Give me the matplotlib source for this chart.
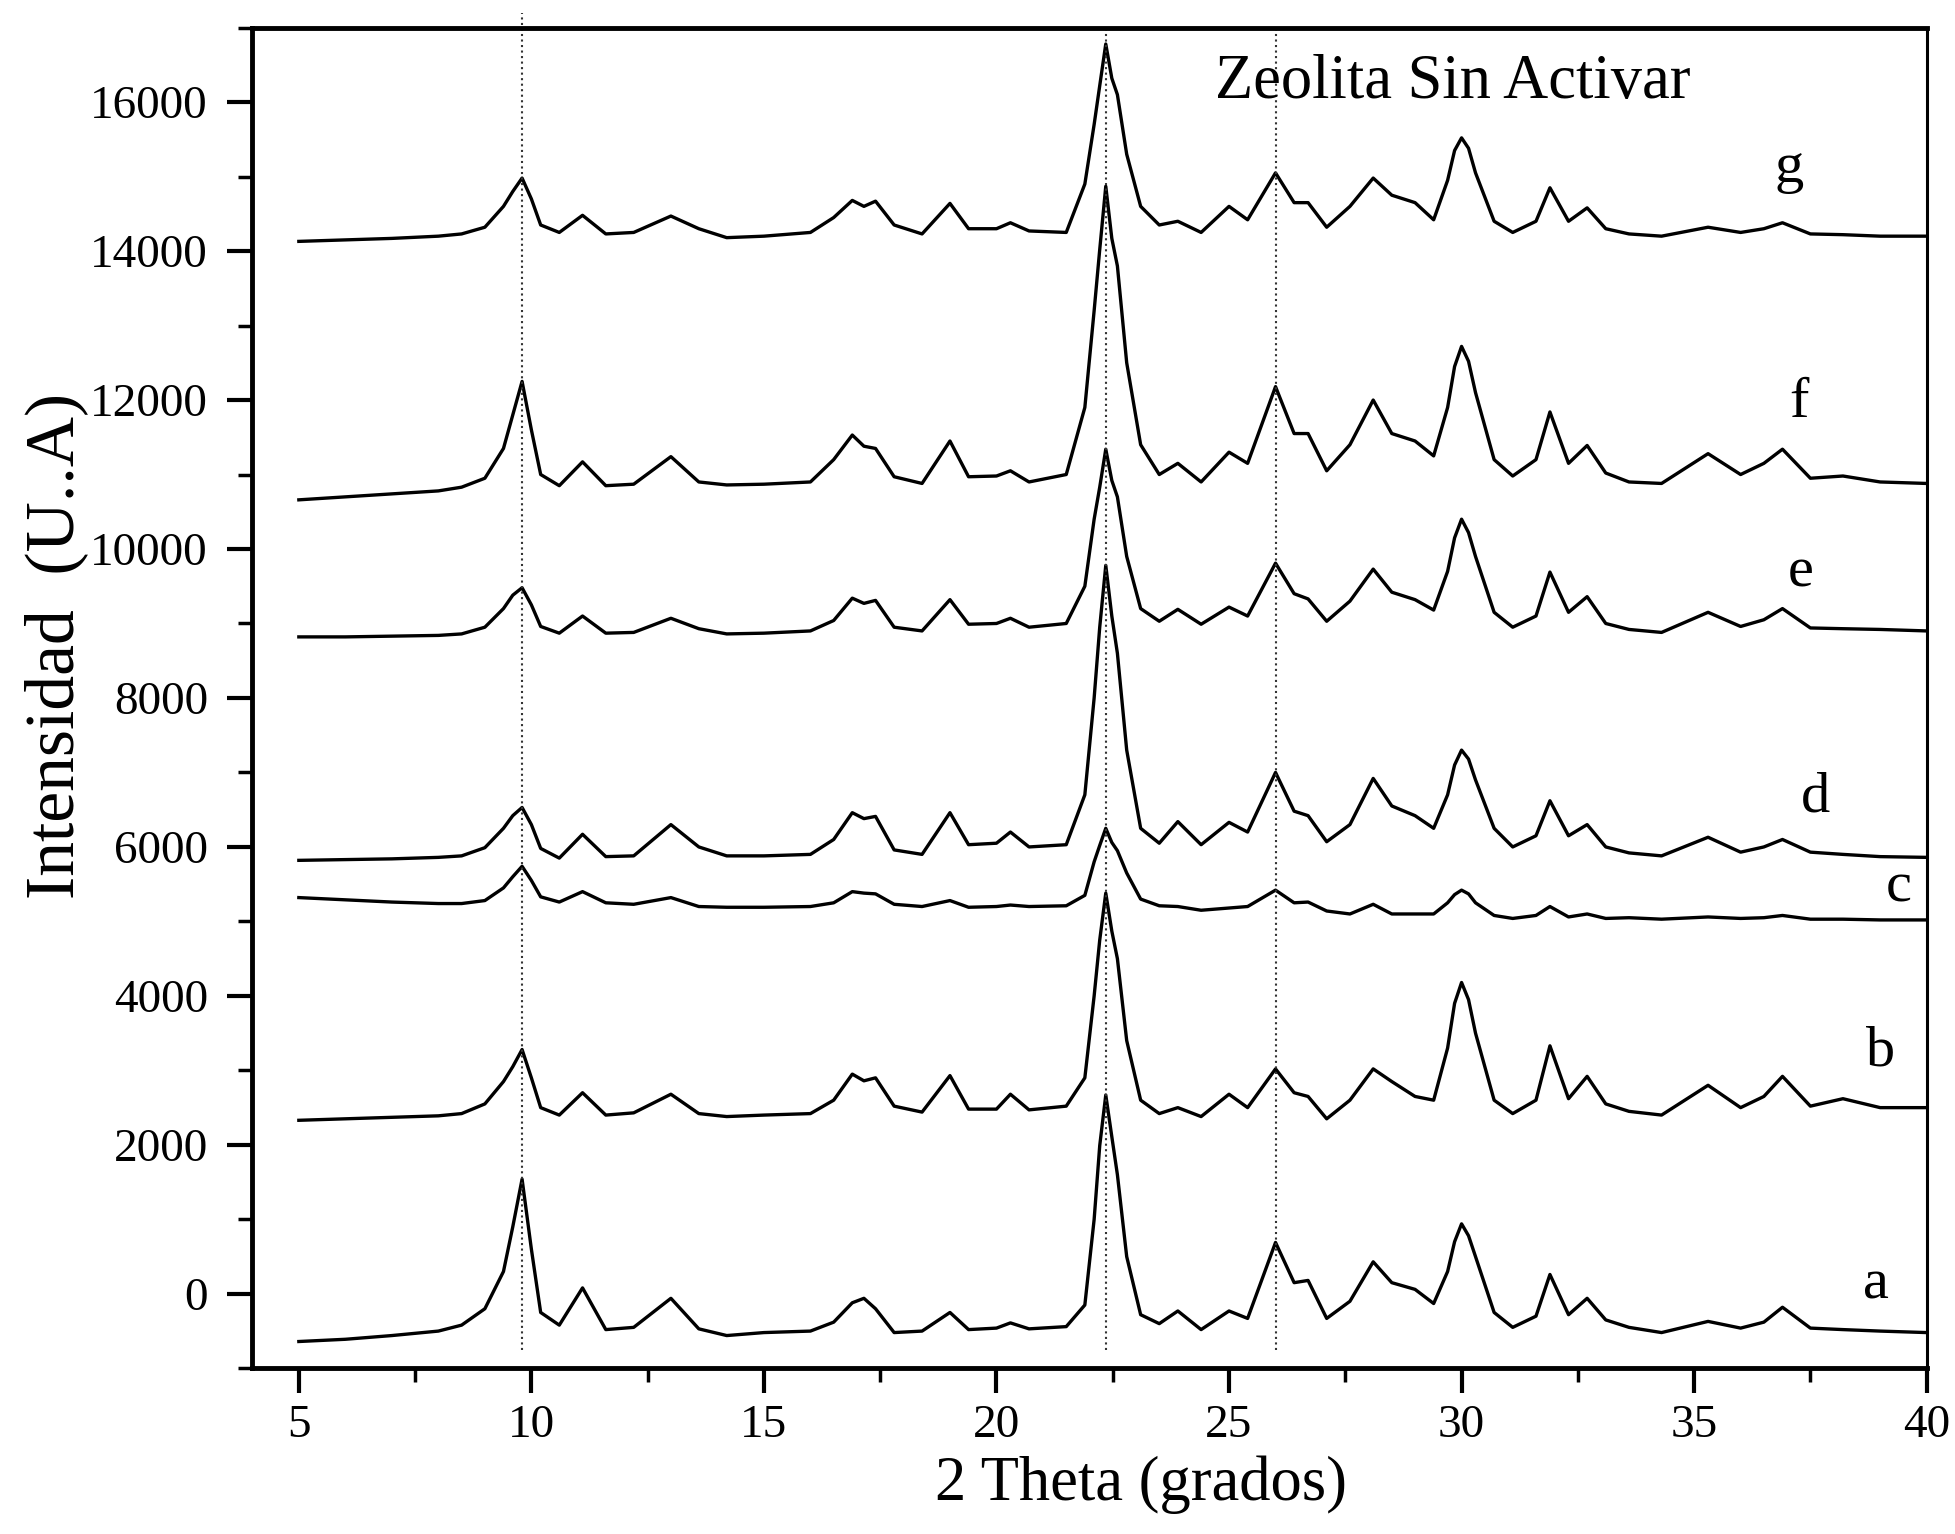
import matplotlib
matplotlib.use('Agg')
import matplotlib.pyplot as plt
from matplotlib.ticker import MultipleLocator
import numpy as np

plt.rcParams['font.family'] = ['Liberation Serif', 'DejaVu Serif']

# 2 theta positions shared by all patterns
two_theta = [5.0, 6.0, 7.0, 8.0, 8.5, 9.0, 9.4, 9.6, 9.8, 10.0, 10.2, 10.6, 11.1, 11.6, 12.2,
             13.0, 13.6, 14.2, 15.0, 16.0, 16.5, 16.9, 17.15, 17.4, 17.8, 18.4, 19.0, 19.4,
             20.0, 20.3, 20.7, 21.5, 21.9, 22.1, 22.22, 22.35, 22.48, 22.6, 22.8, 23.1, 23.5, 23.9, 24.4,
             25.0, 25.4, 26.0, 26.4, 26.7, 27.1, 27.6, 28.1, 28.5, 29.0, 29.4, 29.7, 29.85, 30.0,
             30.15, 30.3, 30.7, 31.1, 31.6, 31.9, 32.3, 32.7, 33.1, 33.6, 34.3, 35.3, 36.0, 36.5,
             36.9, 37.5, 38.2, 39.0, 40.0]

a = [-640, -610, -560, -500, -420, -200, 300, 900, 1540, 600, -250, -420, 80, -480, -450,
     -60, -470, -560, -520, -500, -380, -120, -60, -200, -520, -500, -250, -480,
     -460, -390, -470, -440, -150, 1000, 1990, 2670, 2110, 1600, 500, -280, -400, -230, -480,
     -230, -330, 690, 150, 180, -330, -100, 430, 150, 60, -130, 300, 700, 940,
     780, 500, -250, -450, -300, 260, -280, -60, -350, -450, -520, -370, -460, -380,
     -180, -460, -480, -500, -520]

b = [2330, 2350, 2370, 2390, 2420, 2550, 2850, 3050, 3280, 2900, 2500, 2400, 2700, 2400, 2430,
     2680, 2420, 2380, 2400, 2420, 2600, 2950, 2860, 2900, 2520, 2440, 2930, 2480,
     2480, 2680, 2470, 2520, 2900, 4000, 4750, 5380, 4870, 4500, 3400, 2600, 2420, 2500, 2380,
     2680, 2500, 3020, 2700, 2650, 2350, 2600, 3020, 2850, 2650, 2600, 3300, 3900, 4180,
     3950, 3500, 2600, 2420, 2600, 3330, 2620, 2920, 2550, 2450, 2400, 2800, 2500, 2650,
     2920, 2520, 2620, 2500, 2500]

c = [5320, 5290, 5260, 5240, 5240, 5280, 5450, 5600, 5740, 5550, 5330, 5260, 5400, 5250, 5230,
     5320, 5200, 5190, 5190, 5200, 5250, 5400, 5380, 5370, 5230, 5200, 5280, 5190,
     5200, 5220, 5200, 5210, 5350, 5800, 6020, 6250, 6060, 5950, 5650, 5300, 5210, 5200, 5150,
     5180, 5200, 5420, 5250, 5260, 5140, 5100, 5230, 5100, 5100, 5100, 5250, 5360, 5420,
     5370, 5250, 5080, 5040, 5080, 5200, 5060, 5100, 5040, 5050, 5030, 5060, 5040, 5050,
     5080, 5030, 5030, 5020, 5020]

d = [5820, 5830, 5840, 5860, 5880, 5990, 6250, 6420, 6530, 6300, 5980, 5850, 6170, 5870, 5880,
     6300, 6000, 5880, 5880, 5900, 6100, 6460, 6380, 6410, 5960, 5900, 6460, 6030,
     6050, 6200, 6000, 6030, 6700, 8000, 8950, 9780, 9100, 8600, 7300, 6250, 6050, 6340, 6030,
     6330, 6200, 7000, 6480, 6420, 6070, 6300, 6920, 6550, 6420, 6250, 6700, 7100, 7300,
     7180, 6900, 6250, 6000, 6150, 6620, 6150, 6300, 6000, 5920, 5880, 6130, 5930, 6000,
     6100, 5930, 5900, 5870, 5860]

e = [8820, 8820, 8830, 8840, 8860, 8950, 9200, 9380, 9480, 9250, 8960, 8870, 9100, 8870, 8880,
     9070, 8930, 8860, 8870, 8900, 9040, 9340, 9270, 9310, 8950, 8900, 9320, 8990,
     9000, 9070, 8950, 9000, 9500, 10400, 10830, 11340, 10920, 10700, 9900, 9200, 9030, 9190, 8990,
     9220, 9100, 9810, 9400, 9330, 9030, 9300, 9730, 9420, 9320, 9180, 9700, 10150, 10400,
     10220, 9900, 9150, 8950, 9100, 9690, 9150, 9360, 9000, 8920, 8880, 9150, 8960, 9050,
     9200, 8940, 8930, 8920, 8900]

f = [10660, 10700, 10740, 10780, 10830, 10950, 11350, 11800, 12250, 11600, 11000, 10850, 11170, 10850, 10870,
     11240, 10900, 10860, 10870, 10900, 11200, 11530, 11380, 11350, 10970, 10880, 11450, 10970,
     10980, 11050, 10900, 11000, 11900, 13200, 14020, 14870, 14170, 13800, 12500, 11400, 11000, 11150, 10900,
     11300, 11150, 12180, 11550, 11550, 11050, 11400, 12000, 11550, 11450, 11250, 11900, 12450, 12720,
     12520, 12100, 11200, 10980, 11200, 11840, 11150, 11390, 11020, 10900, 10880, 11280, 11000, 11150,
     11340, 10950, 10980, 10900, 10880]

g = [14130, 14150, 14170, 14200, 14230, 14320, 14600, 14800, 14980, 14700, 14350, 14250, 14480, 14230, 14250,
     14470, 14300, 14180, 14200, 14250, 14450, 14680, 14600, 14670, 14350, 14230, 14640, 14300,
     14300, 14380, 14270, 14250, 14900, 15700, 16220, 16780, 16320, 16100, 15300, 14600, 14350, 14400, 14250,
     14600, 14420, 15050, 14650, 14650, 14320, 14600, 14980, 14750, 14650, 14420, 14950, 15350, 15520,
     15380, 15050, 14400, 14250, 14400, 14850, 14400, 14580, 14300, 14230, 14200, 14320, 14250, 14300,
     14380, 14230, 14220, 14200, 14200]

series = [a, b, c, d, e, f, g]
names = ['a', 'b', 'c', 'd', 'e', 'f', 'g']
# where each letter sits (2 theta, intensity)
label_x = [38.9, 39.0, 39.4, 37.6, 37.3, 37.25, 37.05]
label_y = [120, 3260, 5460, 6670, 9690, 11960, 15120]

ref_lines = [9.8, 22.35, 26.0]

fig = plt.figure(figsize=(19.56, 15.34), dpi=100)
ax = fig.add_axes([0.129, 0.108, 0.856, 0.874])

for y in series:
    ax.plot(two_theta, y, color='black', linewidth=2.4)

for xl in ref_lines:
    top = 17200 if xl < 10 else 17000
    ax.plot([xl, xl], [-750, top], color='#333333', linestyle=':', linewidth=1.5, clip_on=False)

for n, lx, ly in zip(names, label_x, label_y):
    ax.text(lx, ly, n, fontsize=42, ha='center', va='center')

ax.text(29.8, 16250, 'Zeolita Sin Activar', fontsize=45, ha='center', va='center')

ax.set_xlim(4, 40)
ax.set_ylim(-1000, 17000)
ax.set_xticks(np.arange(5, 41, 5))
ax.xaxis.set_minor_locator(MultipleLocator(2.5))
ax.yaxis.set_major_locator(MultipleLocator(2000))
ax.yaxis.set_minor_locator(MultipleLocator(1000))

ax.tick_params(which='major', direction='out', length=18, width=3, labelsize=34)
ax.tick_params(which='minor', direction='out', length=10, width=2.5)
ax.tick_params(axis='x', which='major', pad=8)
ax.tick_params(axis='y', which='major', pad=14)

for side in ['left', 'bottom', 'top']:
    ax.spines[side].set_linewidth(3.5)
ax.spines['right'].set_linewidth(2.2)

ax.set_xlabel('2 Theta (grados)', fontsize=45)
ax.xaxis.set_label_coords(0.531, -0.065)
ax.set_ylabel('Intensidad  (U..A)', fontsize=50)
ax.yaxis.set_label_coords(-0.098, 0.539)

plt.savefig('out.png', dpi=100)
